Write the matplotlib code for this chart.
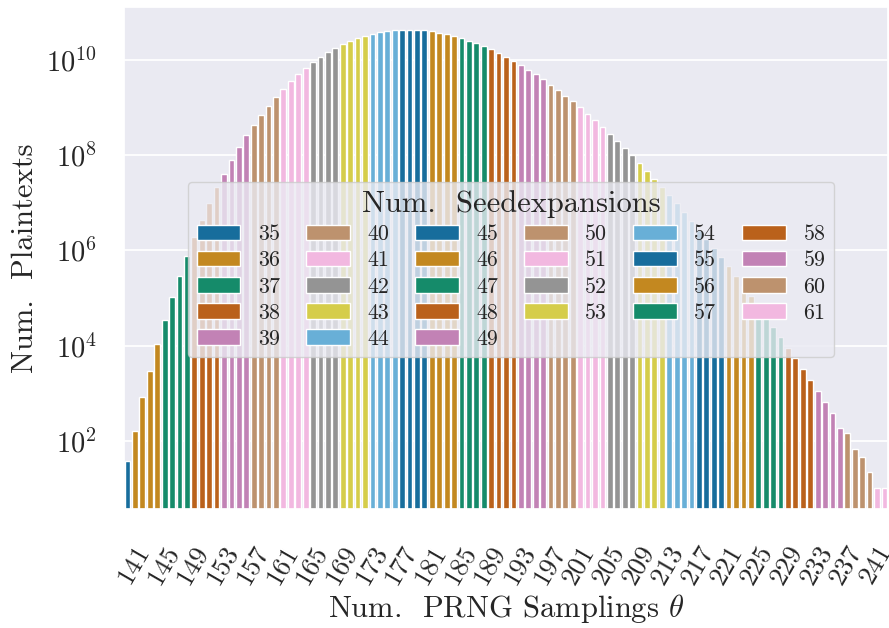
import matplotlib
matplotlib.use('Agg')
import matplotlib.pyplot as plt
import matplotlib.transforms as mtransforms
from matplotlib.ticker import NullLocator
import numpy as np
import seaborn as sns

# x categories: number of PRNG samplings theta
thetas = np.arange(141, 244)

# number of seed expansions for each theta
seed_exp = [35,
            36, 36, 36, 36, 37, 37, 37, 37, 38, 38, 38, 38, 39, 39, 39, 39,
            40, 40, 40, 40, 41, 41, 41, 41, 42, 42, 42, 42, 43, 43, 43, 43,
            44, 44, 44, 44, 45, 45, 45, 45, 46, 46, 46, 46, 47, 47, 47, 47,
            48, 48, 48, 48, 49, 49, 49, 49, 50, 50, 50, 50, 51, 51, 51, 51,
            52, 52, 52, 52, 53, 53, 53, 53, 54, 54, 54, 54, 55, 55, 55, 55,
            56, 56, 56, 56, 57, 57, 57, 57, 58, 58, 58, 58, 59, 59, 59, 59,
            60, 60, 60, 60, 61, 61]

# number of plaintexts
counts = [3.8e1, 1.6e2, 8.1e2, 2.9e3, 1.1e4, 3.5e4, 1.05e5, 2.9e5, 7.7e5,
          1.9e6, 4.4e6, 1.0e7, 2.1e7, 4.1e7, 7.9e7, 1.45e8, 2.6e8, 4.3e8,
          7.0e8, 1.07e9, 1.66e9, 2.45e9, 3.6e9, 5.1e9, 6.8e9, 9.1e9, 1.17e10,
          1.48e10, 1.78e10, 2.19e10, 2.51e10, 2.88e10, 3.16e10, 3.55e10,
          3.89e10, 4.07e10, 4.27e10, 4.27e10, 4.27e10, 4.27e10, 4.27e10,
          4.07e10, 3.72e10, 3.55e10, 3.16e10, 2.88e10, 2.51e10, 2.29e10,
          1.95e10, 1.70e10, 1.41e10, 1.15e10, 9.5e9, 7.9e9, 6.2e9, 5.1e9,
          4.0e9, 3.0e9, 2.34e9, 1.74e9, 1.38e9, 1.02e9, 7.4e8, 5.5e8, 3.9e8,
          2.8e8, 2.0e8, 1.41e8, 1.01e8, 6.9e7, 4.7e7, 3.2e7, 2.1e7, 1.46e7,
          1.0e7, 6.5e6, 4.2e6, 2.7e6, 1.74e6, 1.12e6, 7.2e5, 4.6e5, 2.9e5,
          1.8e5, 1.1e5, 6.6e4, 4.1e4, 2.5e4, 1.5e4, 8.9e3, 5.5e3, 3.2e3,
          1.9e3, 1.1e3, 6.6e2, 3.9e2, 1.86e2, 1.48e2, 6.8e1, 4.6e1, 2.2e1,
          1.0e1, 1.0e1]

exp_levels = sorted(set(seed_exp))

sns.set_theme(style='darkgrid')
plt.rcParams['font.family'] = ['cmr10']
plt.rcParams['mathtext.fontset'] = 'cm'
plt.rcParams['axes.formatter.use_mathtext'] = True

fig = plt.figure(figsize=(8.89, 6.28), dpi=100)
ax = fig.add_axes([0.1393, 0.1895, 0.8597, 0.7994])
ax.set_yscale('log')

palette = sns.color_palette('colorblind', 10)
pos = np.arange(len(thetas))
counts_arr = np.array(counts)
seed_arr = np.array(seed_exp)
for i, e in enumerate(exp_levels):
    sel = seed_arr == e
    col = sns.desaturate(palette[i % 10], 0.75)
    ax.bar(pos[sel], counts_arr[sel], width=0.78, color=col, label=str(e))

ax.set_xlim(-0.5, len(thetas) - 0.5)
ax.set_ylim(10 ** 0.566, 10 ** 11.113)
ax.set_yticks([1e2, 1e4, 1e6, 1e8, 1e10])
ax.yaxis.set_minor_locator(NullLocator())
ax.set_xticks(pos[::4])
ax.set_xticklabels([str(t) for t in thetas[::4]], rotation=60)
ax.grid(True, axis='y', color='white', linewidth=1.3)
ax.grid(False, axis='x')

ax.tick_params(axis='x', length=0, pad=23, labelsize=19.5)
ax.tick_params(axis='y', length=0, pad=19.5, labelsize=20.5)

ax.set_xlabel(r'Num.  PRNG Samplings $\theta$', fontsize=22)
ax.xaxis.set_label_coords(0.5, -0.166)
ax.set_ylabel('Num.  Plaintexts', fontsize=22, labelpad=5)

leg = ax.legend(title='Num.  Seedexpansions', ncol=6, loc='center',
                bbox_to_anchor=(511 / 889, 1 - 269.5 / 628),
                bbox_transform=fig.transFigure,
                fontsize=15.8, title_fontsize=22,
                columnspacing=1.17, labelspacing=0.3,
                handlelength=2.0, handletextpad=0.8)

# shift rotated tick labels slightly to the right
offset = mtransforms.ScaledTranslation(0.06, 0, fig.dpi_scale_trans)
for lbl in ax.get_xticklabels():
    lbl.set_transform(lbl.get_transform() + offset)

fig.savefig('out.png', dpi=100)
